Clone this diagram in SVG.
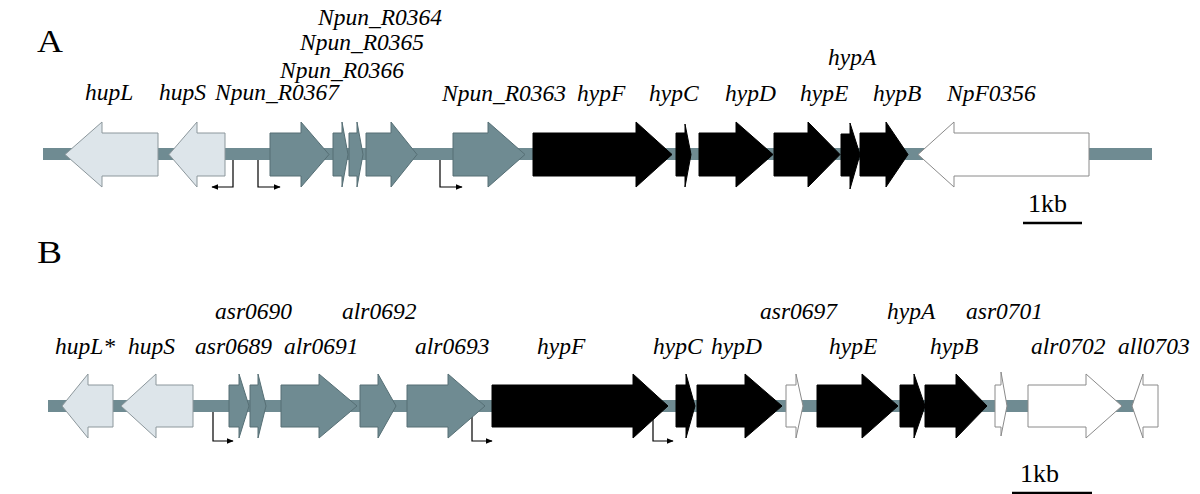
<svg xmlns="http://www.w3.org/2000/svg" width="1200" height="494" viewBox="0 0 1200 494">
<style>
text{font-family:"Liberation Serif","Times New Roman",serif;fill:#000}
.lab{font-style:italic;font-size:23.5px}
.pan{font-size:32px}
.kb{font-size:26px}
.bb{fill:#6f8b92}
.lt{fill:#dde5ea;stroke:#8c979c;stroke-width:1}
.dk{fill:#6f8b92;stroke:#566f75;stroke-width:1}
.bk{fill:#000;stroke:#000;stroke-width:1}
.wt{fill:#fff;stroke:#8a8a8a;stroke-width:1}
.pr{fill:none;stroke:#000;stroke-width:1.2}
.sb{stroke:#000;stroke-width:2.5}
</style>
<defs>
<marker id="ah" viewBox="0 0 10 10" refX="9" refY="5" markerWidth="7" markerHeight="7" markerUnits="userSpaceOnUse" orient="auto">
<path d="M0,1 L10,5 L0,9 Z" fill="#000"/>
</marker>
</defs>

<text class="pan" x="37" y="52" textLength="26" lengthAdjust="spacingAndGlyphs">A</text>
<text class="pan" x="37" y="263" textLength="25" lengthAdjust="spacingAndGlyphs">B</text>

<!-- backbones -->
<rect id="backboneA" class="bb" x="43" y="148" width="1109" height="12"/>
<rect id="backboneB" class="bb" x="48" y="400" width="1095" height="12"/>

<g id="connectors">
<path class="pr" d="M233,160 V187 H212" marker-end="url(#ah)"/>
<path class="pr" d="M258,160 V187 H280" marker-end="url(#ah)"/>
<path class="pr" d="M440,160 V187 H462" marker-end="url(#ah)"/>
<path class="pr" d="M213,412 V441 H233" marker-end="url(#ah)"/>
<path class="pr" d="M472,412 V441 H492" marker-end="url(#ah)"/>
<path class="pr" d="M653,412 V441 H673" marker-end="url(#ah)"/>
</g>

<!-- Panel A genes: body 133-176, head 122-187, center 154.5 -->
<g id="A_hupL"><polygon class="lt" points="158,133 102,133 102,122 65,154.5 102,187 102,176 158,176"/><text class="lab" x="85" y="100">hupL</text></g>
<g id="A_hupS"><polygon class="lt" points="225,133 197,133 197,122 169,154.5 197,187 197,176 225,176"/><text class="lab" x="159" y="100">hupS</text></g>
<g id="A_Npun_R0367"><polygon class="dk" points="270,133 301,133 301,122 329,154.5 301,187 301,176 270,176"/><text class="lab" x="215" y="100">Npun_R0367</text></g>
<g id="A_Npun_R0366"><polygon class="dk" points="333,133 342,133 342,122 348,154.5 342,187 342,176 333,176"/><text class="lab" x="280" y="78">Npun_R0366</text></g>
<g id="A_Npun_R0365"><polygon class="dk" points="349,133 357,133 357,122 363,154.5 357,187 357,176 349,176"/><text class="lab" x="300" y="50">Npun_R0365</text></g>
<g id="A_Npun_R0364"><polygon class="dk" points="366,133 391,133 391,122 417,154.5 391,187 391,176 366,176"/><text class="lab" x="318" y="25">Npun_R0364</text></g>
<g id="A_Npun_R0363"><polygon class="dk" points="453,133 488,133 488,122 525,154.5 488,187 488,176 453,176"/><text class="lab" x="442" y="101">Npun_R0363</text></g>
<g id="A_hypF"><polygon class="bk" points="533,133 636,133 636,122 672,154.5 636,187 636,176 533,176"/><text class="lab" x="577" y="101">hypF</text></g>
<g id="A_hypC"><polygon class="bk" points="676,133 685,133 685,124 691,154.5 685,187 685,176 676,176"/><text class="lab" x="649" y="101">hypC</text></g>
<g id="A_hypD"><polygon class="bk" points="699,133 736,133 736,122 773,154.5 736,187 736,176 699,176"/><text class="lab" x="725" y="101">hypD</text></g>
<g id="A_hypE"><polygon class="bk" points="774,133 808,133 808,122 840,154.5 808,187 808,176 774,176"/><text class="lab" x="800" y="101">hypE</text></g>
<g id="A_hypA"><polygon class="bk" points="841,134 850,134 850,123 860,154.5 850,189 850,176 841,176"/><text class="lab" x="828" y="65">hypA</text></g>
<g id="A_hypB"><polygon class="bk" points="860,133 886,133 886,122 908,154.5 886,187 886,176 860,176"/><text class="lab" x="873" y="101">hypB</text></g>
<g id="A_NpF0356"><polygon class="wt" points="1089,133 954,133 954,122 918,154.5 954,187 954,176 1089,176"/><text class="lab" x="947" y="101">NpF0356</text></g>

<g id="scaleA"><text class="kb" x="1028" y="212">1kb</text><line class="sb" x1="1023" y1="223" x2="1082" y2="223"/></g>

<!-- Panel B genes: body 385-427, head 374-438, center 406 -->
<g id="B_hupL"><polygon class="lt" points="113,385 88,385 88,374 62,406 88,438 88,427 113,427"/><text class="lab" x="55" y="354">hupL*</text></g>
<g id="B_hupS"><polygon class="lt" points="193,385 156,385 156,374 121,406 156,438 156,427 193,427"/><text class="lab" x="128" y="354">hupS</text></g>
<g id="B_asr0689"><polygon class="dk" points="229,385 239,385 239,374 249,406 239,438 239,427 229,427"/><text class="lab" x="195" y="354">asr0689</text></g>
<g id="B_asr0690"><polygon class="dk" points="250,385 258,385 258,374 266,406 258,438 258,427 250,427"/><text class="lab" x="215" y="319">asr0690</text></g>
<g id="B_alr0691"><polygon class="dk" points="281,385 319,385 319,374 357,406 319,438 319,427 281,427"/><text class="lab" x="284" y="354">alr0691</text></g>
<g id="B_alr0692"><polygon class="dk" points="360,385 378,385 378,374 396,406 378,438 378,427 360,427"/><text class="lab" x="342" y="319">alr0692</text></g>
<g id="B_alr0693"><polygon class="dk" points="407,385 448,385 448,374 485,406 448,438 448,427 407,427"/><text class="lab" x="415" y="354">alr0693</text></g>
<g id="B_hypF"><polygon class="bk" points="492,385 633,385 633,374 668,406 633,438 633,427 492,427"/><text class="lab" x="537" y="354">hypF</text></g>
<g id="B_hypC"><polygon class="bk" points="676,385 686,385 686,374 695,406 686,438 686,427 676,427"/><text class="lab" x="653" y="354">hypC</text></g>
<g id="B_hypD"><polygon class="bk" points="697,385 745,385 745,374 782,406 745,438 745,427 697,427"/><text class="lab" x="711" y="354">hypD</text></g>
<g id="B_asr0697"><polygon class="wt" points="786,385 796,385 796,374 803,406 796,438 796,427 786,427"/><text class="lab" x="760" y="319">asr0697</text></g>
<g id="B_hypE"><polygon class="bk" points="817,385 862,385 862,374 898,406 862,438 862,427 817,427"/><text class="lab" x="829" y="354">hypE</text></g>
<g id="B_hypA"><polygon class="bk" points="900,385 914,385 914,374 925,406 914,438 914,427 900,427"/><text class="lab" x="887" y="319">hypA</text></g>
<g id="B_hypB"><polygon class="bk" points="925,385 956,385 956,374 987,406 956,438 956,427 925,427"/><text class="lab" x="930" y="354">hypB</text></g>
<g id="B_asr0701"><polygon class="wt" points="995,385 1001,385 1001,372 1007,406 1001,436 1001,427 995,427"/><text class="lab" x="966" y="319">asr0701</text></g>
<g id="B_alr0702"><polygon class="wt" points="1028,385 1086,385 1086,374 1122,406 1086,438 1086,427 1028,427"/><text class="lab" x="1031" y="354">alr0702</text></g>
<g id="B_all0703"><polygon class="wt" points="1158,385 1143,385 1143,374 1132,406 1143,438 1143,427 1158,427"/><text class="lab" x="1118" y="354">all0703</text></g>

<g id="scaleB"><text class="kb" x="1020" y="482">1kb</text><line class="sb" x1="1012" y1="493" x2="1092" y2="493"/></g>
</svg>
